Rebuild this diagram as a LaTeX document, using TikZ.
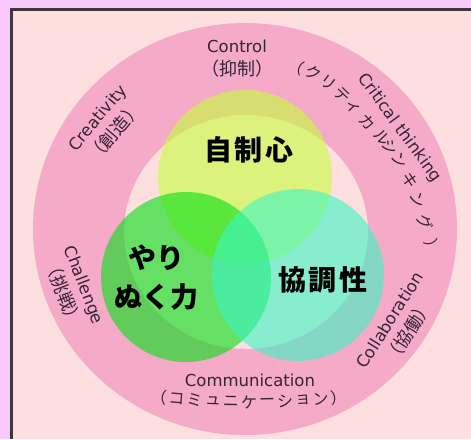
\documentclass[tikz,border=0pt]{standalone}
\usepackage{fontspec}
\setmainfont{DejaVu Sans}
\newfontfamily\jp{Noto Sans CJK JP}
\newfontfamily\lat{DejaVu Sans}
\definecolor{lav}{RGB}{249,201,250}
\definecolor{framecol}{RGB}{60,56,62}
\definecolor{bgpink}{RGB}{253,223,223}
\definecolor{ringpink}{RGB}{245,170,200}
\definecolor{ytone}{RGB}{198,255,58}
\definecolor{gtone}{RGB}{2,224,21}
\definecolor{ttone}{RGB}{59,246,196}
\definecolor{ringtext}{RGB}{52,36,52}
\newcommand{\latf}{\lat\fontsize{16.5}{23}\selectfont}
\newcommand{\jpf}{\jp\fontsize{18}{23}\selectfont}
\begin{document}
\begin{tikzpicture}[x=1pt,y=-1pt,
  bub/.style={circle,inner sep=0pt,fill opacity=0.6,draw=none},
  lab/.style={inner sep=0pt,text=ringtext,align=center,font=\lat\fontsize{16.5}{23}\selectfont},
  kt/.style={inner sep=0pt,text=ringtext,font=\jp\fontsize{16}{18}\selectfont},
  big/.style={inner sep=0pt,text=black,align=center,font=\jp\bfseries\fontsize{28}{39}\selectfont}]
\useasboundingbox (0,0) rectangle (471,439);
\fill[lav] (0,0) rectangle (471,439);
\fill[framecol] (10,8) rectangle (471,439);
\fill[bgpink] (12.5,10.5) rectangle (471,439);
% ring
\fill[ringpink,even odd rule] (245,229) ellipse [x radius=212pt, y radius=206pt]
  (246,232) ellipse [x radius=122pt, y radius=117pt];
% circles
\node[bub,fill=ytone,minimum size=174pt] (yel) at (245,177) {};
\node[bub,fill=gtone,minimum size=170pt] (grn) at (186,277) {};
\node[bub,fill=ttone,minimum size=172pt] (tea) at (298,275) {};
% big labels
\node[big] (jiseishin) at (249,150) {自\kern3pt 制\kern3pt 心};
\node[big] (kyochosei) at (323,280) {協\kern3pt 調\kern3pt 性};
\node[big] (yarinuku) at (156,277.5) {やり\\ぬく力};
% ring labels
\node[lab] (control) at (237,59) {\latf Control\\\jpf （抑制）};
\node[lab,rotate=50] (creat) at (106.5,125.5) {\latf Creativity\\\jpf （創造）};
\node[lab,rotate=-54] (crit) at (399.5,128) {Critical thinking};
\foreach \px/\py/\r/\c [count=\i] in {
  296/66.5/-21/（, 313/73/-28/ク, 328/83/-37/リ, 342/95/-44/テ, 353/107/-47/ィ,
  367/122/-46/カ, 382/137/-47/ル, 390/147/-52/シ, 400/160/-59/ン, 410/180/-66/キ,
  418/200/-70/ン, 425/222/-72/グ, 433/247/-72/）}
  \node[kt,rotate=\r] (ct\i) at (\px,\py) {\c};
\node[lab,rotate=-69] (chal) at (73,289) {\latf Challenge\\\jpf （挑戦）};
\node[lab] (comm) at (250,380) {Communication};
\foreach \c [count=\i from 0] in {（,コ,ミ,ュ,ニ,ケ,ー,シ,ョ,ン,）}{
  \pgfmathsetmacro{\dd}{(\i-5)*18}
  \pgfmathsetmacro{\yy}{402-\dd*\dd/1760}
  \pgfmathsetmacro{\rr}{\dd/15.36}
  \node[kt,rotate=\rr] (cm\i) at ({249+\dd},\yy) {\c};
}
\node[lab,rotate=58] (collab) at (400,326.5) {\latf Collaboration\\\jpf （協働）};
\end{tikzpicture}
\end{document}
